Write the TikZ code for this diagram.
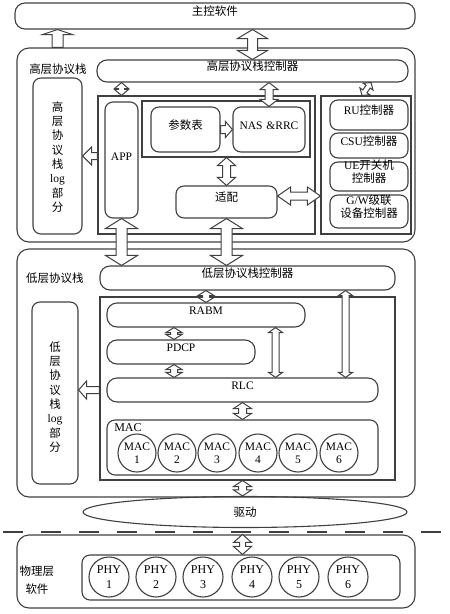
\documentclass[tikz,border=0pt]{standalone}
\usepackage{fontspec}
\setmainfont{Liberation Serif}
\newfontfamily\cjk{Noto Sans CJK SC}
\usetikzlibrary{fit,calc,shapes.geometric}
\newcommand\zh[1]{{\cjk #1}}
\newcommand\txt{\fontsize{11.5}{13}\selectfont}
\newcommand\vtxt{\cjk\fontsize{11.5}{14.3}\selectfont}
% double-headed hollow block arrow: from, to, head half width, shaft half width, head length
\newcommand\dbl[6][]{%
 \draw[arr,#1] let \p1=(#2), \p2=(#3), \n1={veclen(\x2-\x1,\y2-\y1)}, \n2={(\x2-\x1)/\n1}, \n3={(\y2-\y1)/\n1} in
 ({\x1},{\y1})
 -- ({\x1+(#6)*\n2-(#4)*\n3},{\y1+(#6)*\n3+(#4)*\n2})
 -- ({\x1+(#6)*\n2-(#5)*\n3},{\y1+(#6)*\n3+(#5)*\n2})
 -- ({\x1+(\n1-#6)*\n2-(#5)*\n3},{\y1+(\n1-#6)*\n3+(#5)*\n2})
 -- ({\x1+(\n1-#6)*\n2-(#4)*\n3},{\y1+(\n1-#6)*\n3+(#4)*\n2})
 -- ({\x2},{\y2})
 -- ({\x1+(\n1-#6)*\n2+(#4)*\n3},{\y1+(\n1-#6)*\n3-(#4)*\n2})
 -- ({\x1+(\n1-#6)*\n2+(#5)*\n3},{\y1+(\n1-#6)*\n3-(#5)*\n2})
 -- ({\x1+(#6)*\n2+(#5)*\n3},{\y1+(#6)*\n3-(#5)*\n2})
 -- ({\x1+(#6)*\n2+(#4)*\n3},{\y1+(#6)*\n3-(#4)*\n2})
 -- cycle;}
% single-headed hollow block arrow (tip at second point)
\newcommand\sgl[6][]{%
 \draw[arr,#1] let \p1=(#2), \p2=(#3), \n1={veclen(\x2-\x1,\y2-\y1)}, \n2={(\x2-\x1)/\n1}, \n3={(\y2-\y1)/\n1} in
 ({\x1-(#5)*\n3},{\y1+(#5)*\n2})
 -- ({\x1+(\n1-#6)*\n2-(#5)*\n3},{\y1+(\n1-#6)*\n3+(#5)*\n2})
 -- ({\x1+(\n1-#6)*\n2-(#4)*\n3},{\y1+(\n1-#6)*\n3+(#4)*\n2})
 -- ({\x2},{\y2})
 -- ({\x1+(\n1-#6)*\n2+(#4)*\n3},{\y1+(\n1-#6)*\n3-(#4)*\n2})
 -- ({\x1+(\n1-#6)*\n2+(#5)*\n3},{\y1+(\n1-#6)*\n3-(#5)*\n2})
 -- ({\x1+(#5)*\n3},{\y1-(#5)*\n2})
 -- cycle;}
\tikzset{
 ln/.style={draw=black!75, line width=1.1pt},
 rbox/.style={ln, rounded corners=8pt, inner sep=0pt, fit={#1}, align=center, font=\txt},
 sbox/.style={ln, sharp corners, inner sep=0pt, fit={#1}},
 lbl/.style={inner sep=0pt, font=\txt, align=center},
 vlbl/.style={inner sep=0pt, font=\vtxt, align=center},
 cir/.style={ln, circle, inner sep=0pt, align=center},
 arr/.style={draw=black!75, line width=1pt, fill=white, line join=miter},
}
\begin{document}
\begin{tikzpicture}[x=1pt,y=-1pt]
\useasboundingbox (0,0) rectangle (450,614);
% main software
\node[rbox={(15,3)(415,29)}, rounded corners=10pt] (main) {\zh{主控软件}};
% high layer stack
\node[rbox={(17,48)(415,242)}, rounded corners=12pt] (high) {};
\node[lbl] (highlbl) at (58,69) {\zh{高层协议栈}};
\node[rbox={(97,60)(408,82)}, rounded corners=10pt] (hctrl) {\zh{高层协议栈控制器}};
\node[rbox={(33,78)(82,234)}] (hlog) {};
\node[vlbl] (hlogtxt) at (57.5,157) {高\\层\\协\\议\\栈\\{\rmfamily log}\\部\\分};
\node[sbox={(98,96)(315,234)}] (hin) {};
\node[rbox={(105,102)(138,218)}] (app) {APP};
\node[sbox={(142,101)(310,157)}] (nasgrp) {};
\node[rbox={(151,107)(220,152)}] (param) {\zh{参数表}};
\node[rbox={(233,107)(305,152)}] (nas) {NAS \&RRC};
\node[rbox={(176,186)(277,218)}] (adapt) {\zh{适配}};
\node[sbox={(321,96)(411,234)}] (rgrp) {};
\node[rbox={(330,100)(408,130)}] (ru) {RU\zh{控制器}};
\node[rbox={(330,133)(408,158)}] (csu) {CSU\zh{控制器}};
\node[rbox={(330,162)(408,191)}] (ue) {UE\zh{开关机}\\\zh{控制器}};
\node[rbox={(330,195)(408,228)}] (gw) {G/W\zh{级联}\\\zh{设备控制器}};
% low layer stack
\node[rbox={(17,249)(415,497)}, rounded corners=12pt] (low) {};
\node[lbl] (lowlbl) at (55,278) {\zh{低层协议栈}};
\node[rbox={(100,266)(395,290)}, rounded corners=10pt] (lctrl) {\zh{低层协议栈控制器}};
\node[sbox={(100,297)(395,480)}] (lin) {};
\node[rbox={(32,302)(78,484)}] (llog) {};
\node[vlbl] (llogtxt) at (55,397) {低\\层\\协\\议\\栈\\{\rmfamily log}\\部\\分};
\node[rbox={(107,303)(305,327)}, rounded corners=10pt] (rabm) {RABM};
\node[rbox={(107,340)(255,364)}, rounded corners=10pt] (pdcp) {PDCP};
\node[rbox={(107,378)(378,402)}, rounded corners=10pt] (rlc) {RLC};
\node[rbox={(107,420)(378,475)}] (mac) {};
\node[lbl, font=\fontsize{12}{13}\selectfont] (maclbl) at (128,428) {MAC};
\foreach \i/\x in {1/137,2/177,3/217,4/258,5/298,6/339}
  \node[cir, minimum size=38pt, font=\fontsize{11.5}{13}\selectfont] (mac\i) at (\x,453) {MAC\\\i};
% driver
\node[ln, ellipse, minimum width=324pt, minimum height=31pt, inner sep=0pt, font=\txt] (drv) at (245,512) {\zh{驱动}};
\draw[black!75, line width=1.6pt, dash pattern=on 20pt off 18pt] (3,532) -- (450,532);
% physical layer
\node[rbox={(17,535)(415,608)}, rounded corners=12pt] (phy) {};
\node[lbl] (phylbl1) at (37,571) {\zh{物理层}};
\node[lbl] (phylbl2) at (37,589) {\zh{软件}};
\node[rbox={(82,555)(400,600)}] (pin) {};
\foreach \i/\x in {1/109,2/156,3/203,4/252,5/299,6/348}
  \node[cir, minimum size=40pt, font=\fontsize{12}{15}\selectfont] (phy\i) at (\x,577) {PHY\\\i};
% helper coordinates
\coordinate (rgA) at ($(hctrl.south -| rgrp.north)+(5,0)$);
\coordinate (rgB) at ($(rgrp.north)+(-4,0)$);
\coordinate (adE) at ($(adapt.east)+(0,-6)$);
\coordinate (pdN) at ($(pdcp.north)+(-7,0)$);
\coordinate (pdS) at ($(pdcp.south)+(-7,0)$);
\coordinate (rbS) at ($(rabm.south east)+(-30,0)$);
\coordinate (rlN) at ($(rlc.north east)+(-33,0)$);
% arrows
\sgl{hlog.north |- high.north}{hlog.north |- main.south}{15}{5.5}{5}
\dbl{main.south -| hctrl.north}{hctrl.north}{15}{5}{9}
\dbl{app.north |- hctrl.south}{app.north |- hin.north}{7}{3}{6}
\dbl{nas.north |- hctrl.south}{nas.north}{9}{4}{7}
\dbl{rgA}{rgB}{6}{2.5}{5}
\sgl{param.east}{nas.west}{8}{4}{7}
\dbl{nasgrp.south -| adapt.north}{adapt.north}{9}{4}{8}
\dbl{adE}{adE -| rgrp.west}{9}{4}{13}
\sgl{hin.west |- hlog.east}{hlog.east}{9}{3.5}{9}
\dbl{app.south}{app.south |- lctrl.north}{16}{5.5}{10}
\dbl{adapt.south}{adapt.south |- lctrl.north}{16}{5.5}{10}
\dbl{rabm.north |- lctrl.south}{rabm.north}{8}{3.5}{5}
\dbl{pdN |- rabm.south}{pdN}{8}{3.5}{5}
\dbl{pdS}{pdS |- rlc.north}{8}{3.5}{5}
\dbl{rbS}{rbS |- rlc.north}{7}{3.5}{5}
\dbl{rlN |- lctrl.south}{rlN}{7}{3.5}{5}
\sgl{lin.west |- rlc.west}{llog.east |- rlc.west}{9}{3.5}{8}
\dbl{rlc.south}{rlc.south |- mac.north}{9}{4}{6}
\dbl{lin.south -| mac.south}{drv.north -| mac.south}{9}{4}{6}
\dbl{phy.north -| mac.south}{pin.north -| mac.south}{9}{3}{8}
\end{tikzpicture}
\end{document}
